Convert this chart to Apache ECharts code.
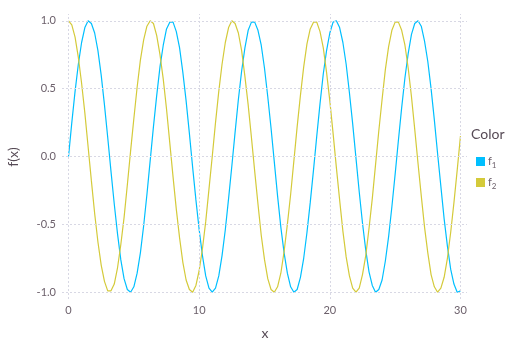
<!DOCTYPE html>
<html>
<head>
<meta charset="utf-8">
<script src="https://cdn.jsdelivr.net/npm/echarts@6/dist/echarts.min.js"></script>
<style>html,body{margin:0;padding:0;background:#fff}#c{width:515px;height:347px}</style>
</head>
<body>
<div id="c"></div>
<script>
// x values every 0.25 from 0 to 30
const xs = [0,0.25,0.5,0.75,1,1.25,1.5,1.75,2,2.25,2.5,2.75,3,3.25,3.5,3.75,4,4.25,4.5,4.75,5,5.25,5.5,5.75,6,6.25,6.5,6.75,7,7.25,7.5,7.75,8,8.25,8.5,8.75,9,9.25,9.5,9.75,10,10.25,10.5,10.75,11,11.25,11.5,11.75,12,12.25,12.5,12.75,13,13.25,13.5,13.75,14,14.25,14.5,14.75,15,15.25,15.5,15.75,16,16.25,16.5,16.75,17,17.25,17.5,17.75,18,18.25,18.5,18.75,19,19.25,19.5,19.75,20,20.25,20.5,20.75,21,21.25,21.5,21.75,22,22.25,22.5,22.75,23,23.25,23.5,23.75,24,24.25,24.5,24.75,25,25.25,25.5,25.75,26,26.25,26.5,26.75,27,27.25,27.5,27.75,28,28.25,28.5,28.75,29,29.25,29.5,29.75,30];
const f1 = [0.00,0.25,0.48,0.68,0.84,0.95,1.00,0.98,0.91,0.78,0.60,0.38,0.14,-0.11,-0.35,-0.57,-0.76,-0.90,-0.98,-1.00,-0.96,-0.86,-0.71,-0.51,-0.28,-0.03,0.22,0.45,0.66,0.82,0.94,0.99,0.99,0.92,0.80,0.62,0.41,0.17,-0.08,-0.32,-0.54,-0.73,-0.88,-0.97,-1.00,-0.97,-0.88,-0.73,-0.54,-0.31,-0.07,0.18,0.42,0.63,0.80,0.93,0.99,0.99,0.93,0.82,0.65,0.44,0.21,-0.04,-0.29,-0.52,-0.71,-0.86,-0.96,-1.00,-0.98,-0.89,-0.75,-0.56,-0.34,-0.10,0.15,0.39,0.61,0.78,0.91,0.99,1.00,0.95,0.84,0.68,0.47,0.24,-0.01,-0.26,-0.49,-0.69,-0.85,-0.95,-1.00,-0.98,-0.91,-0.77,-0.59,-0.37,-0.13,0.12,0.36,0.58,0.76,0.90,0.98,1.00,0.96,0.85,0.70,0.50,0.27,0.02,-0.22,-0.46,-0.66,-0.83,-0.94,-1.00,-0.99];
const f2 = [1.00,0.97,0.88,0.73,0.54,0.32,0.07,-0.18,-0.42,-0.63,-0.80,-0.92,-0.99,-0.99,-0.94,-0.82,-0.65,-0.45,-0.21,0.04,0.28,0.51,0.71,0.86,0.96,1.00,0.98,0.89,0.75,0.57,0.35,0.10,-0.15,-0.39,-0.60,-0.78,-0.91,-0.98,-1.00,-0.95,-0.84,-0.68,-0.48,-0.24,0.00,0.25,0.48,0.68,0.84,0.95,1.00,0.98,0.91,0.78,0.59,0.38,0.14,-0.11,-0.35,-0.58,-0.76,-0.90,-0.98,-1.00,-0.96,-0.86,-0.70,-0.50,-0.28,-0.03,0.22,0.45,0.66,0.83,0.94,0.99,0.99,0.92,0.80,0.62,0.41,0.17,-0.08,-0.32,-0.55,-0.74,-0.88,-0.97,-1.00,-0.97,-0.87,-0.73,-0.53,-0.31,-0.06,0.19,0.42,0.64,0.81,0.93,0.99,0.99,0.93,0.82,0.65,0.44,0.20,-0.05,-0.29,-0.52,-0.71,-0.87,-0.96,-1.00,-0.97,-0.89,-0.75,-0.56,-0.34,-0.10,0.15];
const xTicks = [0,10,20,30];
const yTicks = [-1,-0.5,0,0.5,1];
const seriesNames = ['f1','f2'];
const colors = ['#00BFFF','#D4CA3A'];

const gridColor = '#D8D8E4';
const labelColor = '#6c606b';
const titleColor = '#564a55';
const font = 'Lato, "Open Sans", sans-serif';

const chart = echarts.init(document.getElementById('c'), null, {renderer:'canvas'});
const gridLines = {
  silent: true, symbol: 'none', label: {show:false},
  lineStyle: {color: gridColor, type: [2,2], width: 1},
  data: xTicks.map(v => ({xAxis: v})).concat(yTicks.map(v => ({yAxis: v})))
};
chart.setOption({
  animation: false,
  grid: {left: 62, right: 48, top: 14, bottom: 48},
  xAxis: {type:'value', min:-0.5, max:30.5,
    axisLine:{show:false}, axisTick:{show:false}, splitLine:{show:false},
    axisLabel:{customValues: xTicks, color: labelColor, fontSize: 11, fontFamily: font, margin: 6}},
  yAxis: {type:'value', min:-1.05, max:1.05,
    axisLine:{show:false}, axisTick:{show:false}, splitLine:{show:false},
    axisLabel:{customValues: yTicks, color: labelColor, fontSize: 11, fontFamily: font, margin: 6,
      formatter: v => v.toFixed(1)}},
  legend: {
    orient:'vertical', left: 471, top: 151, itemWidth: 9, itemHeight: 9, itemGap: 8, icon:'rect',
    data: seriesNames,
    formatter: n => '{a|f}{b|' + n.slice(1) + '}',
    textStyle: {color: labelColor, fontFamily: font, padding:[0,0,0,-2],
      rich: {a:{fontSize:11, fontFamily: font, color: labelColor},
             b:{fontSize:8, fontFamily: font, color: labelColor, padding:[7,0,0,0]}}}
  },
  graphic: [
    {type:'text', left: 471, top: 127, style:{text:'Color', font:'14px ' + font, fill: titleColor}},
    {type:'text', x: 265, y: 333, style:{text:'x', font:'14px ' + font, fill: titleColor, align:'center', verticalAlign:'middle'}},
    {type:'text', x: 13, y: 157, rotation: Math.PI/2, style:{text:'f(x)', font:'14px ' + font, fill: titleColor, align:'center', verticalAlign:'middle'}}
  ],
  series: seriesNames.map((n, i) => ({
    name: n, type: 'line', smooth: false, showSymbol: false,
    color: colors[i], lineStyle: {width: 1.2, color: colors[i]},
    data: xs.map((x, j) => [x, (i === 0 ? f1 : f2)[j]]),
    markLine: i === 0 ? gridLines : undefined,
    z: 2
  }))
});
</script>
</body>
</html>
